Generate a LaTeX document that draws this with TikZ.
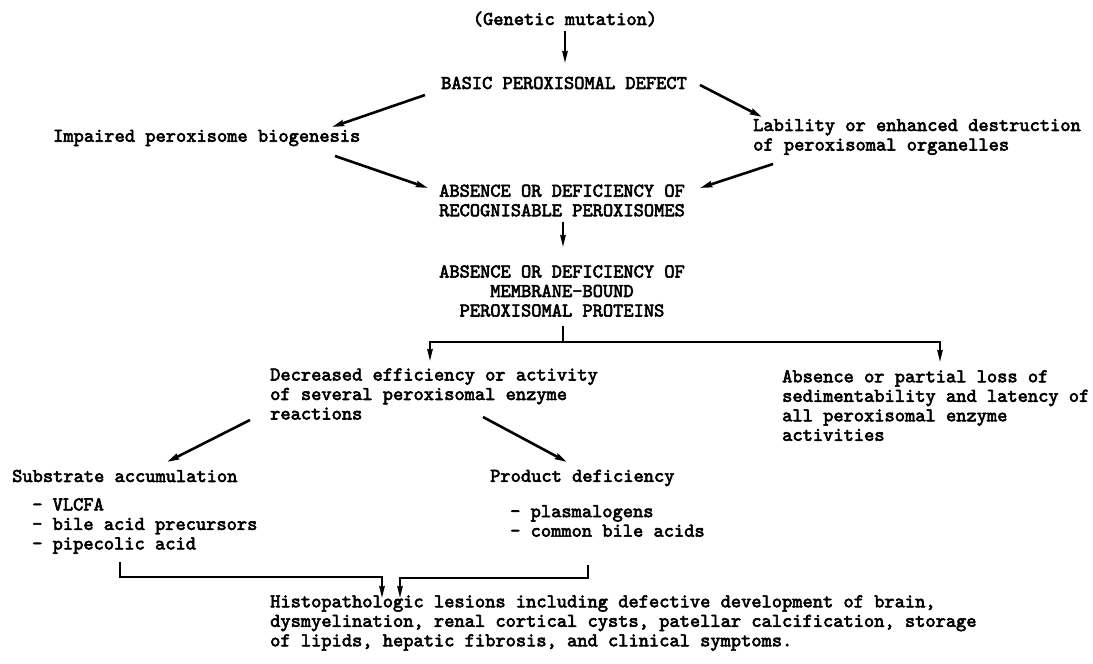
\documentclass[tikz,border=0pt]{standalone}
\usepackage{fontspec}
\newfontfamily\twfont{lmmono10-regular.otf}[FakeBold=3]
\usetikzlibrary{arrows.meta,calc}
\begin{document}
\begin{tikzpicture}[x=1pt,y=-1pt,
  txt/.style={inner sep=0pt, font=\fontsize{19.5}{19.5}\selectfont\twfont},
  arr/.style={line width=2.6pt, -{Stealth[length=12pt,width=6pt,inset=1pt]}},
  varr/.style={line width=1.9pt, -{Stealth[length=12pt,width=5.5pt,inset=1pt]}},
  lin/.style={line width=1.9pt}]
\useasboundingbox[fill=white] (0,0) rectangle (1093,664);
\node[txt] (gen) at (565,19) {(Genetic mutation)};
\node[txt] (basic) at (564,83) {BASIC PEROXISOMAL DEFECT};
\node[txt,anchor=west] (imp) at (53,138) {Impaired peroxisome biogenesis};
\node[txt,anchor=west,align=left] (lab) at (753,137) {Lability or enhanced destruction\\of peroxisomal organelles};
\node[txt,align=center] (abs1) at (562,200.5) {ABSENCE OR DEFICIENCY OF\\RECOGNISABLE PEROXISOMES};
\node[txt,align=center] (abs2) at (562,291) {ABSENCE OR DEFICIENCY OF\\MEMBRANE-BOUND\\PEROXISOMAL PROTEINS};
\node[txt,anchor=west,align=left] (dec) at (270,394) {Decreased efficiency or activity\\of several peroxisomal enzyme\\reactions};
\node[txt,anchor=west,align=left] (abs3) at (782,405.5) {Absence or partial loss of\\sedimentability and latency of\\all peroxisomal enzyme\\activities};
\node[txt,anchor=west] (sub) at (12,476) {Substrate accumulation};
\node[txt,anchor=west,align=left] (sublist) at (32,526) {- VLCFA\\- bile acid precursors\\- pipecolic acid};
\node[txt,anchor=west] (prod) at (490,478) {Product deficiency};
\node[txt,anchor=west,align=left] (prodlist) at (510,521) {- plasmalogens\\- common bile acids};
\node[txt,anchor=west,align=left] (histo) at (270,623) {Histopathologic lesions including defective development of brain,\\dysmyelination, renal cortical cysts, patellar calcification, storage\\of lipids, hepatic fibrosis, and clinical symptoms.};
% connectors
\draw[varr] ($(gen.center)+(0,12)$) -- ($(basic.center)+(1,-20)$);
\draw[arr] ($(basic.center)+(-139,12)$) -- ($(imp.west)+(279,-11)$);
\draw[arr] ($(basic.center)+(136,2)$) -- ($(lab.west)+(9,-20)$);
\draw[arr] ($(imp.west)+(282,18)$) -- ($(abs1.center)+(-134,-12.5)$);
\draw[arr] ($(lab.west)+(20,27)$) -- ($(abs1.center)+(138,-12.5)$);
\draw[varr] ($(abs1.center)+(1,21.5)$) -- ($(abs2.center)+(1,-44)$);
\coordinate (split) at ($(abs2.center)+(1,51)$);
\draw[lin] ($(abs2.center)+(1,35)$) -- (split);
\draw[varr] (split) -| ($(dec.west)+(160,-33)$);
\draw[varr] (split) -| ($(abs3.west)+(158,-43.5)$);
\draw[arr] ($(dec.west)+(-20,26)$) -- ($(sub.west)+(155,-14)$);
\draw[arr] ($(dec.west)+(213,23)$) -- ($(prod.west)+(77,-16)$);
\draw[varr] ($(sublist.west)+(88,36)$) |- ($(histo.west)+(112,-46)$) -- ($(histo.west)+(112,-25)$);
\draw[varr] ($(prodlist.west)+(78,44)$) |- ($(histo.west)+(130,-45)$) -- ($(histo.west)+(130,-25)$);
\end{tikzpicture}
\end{document}
